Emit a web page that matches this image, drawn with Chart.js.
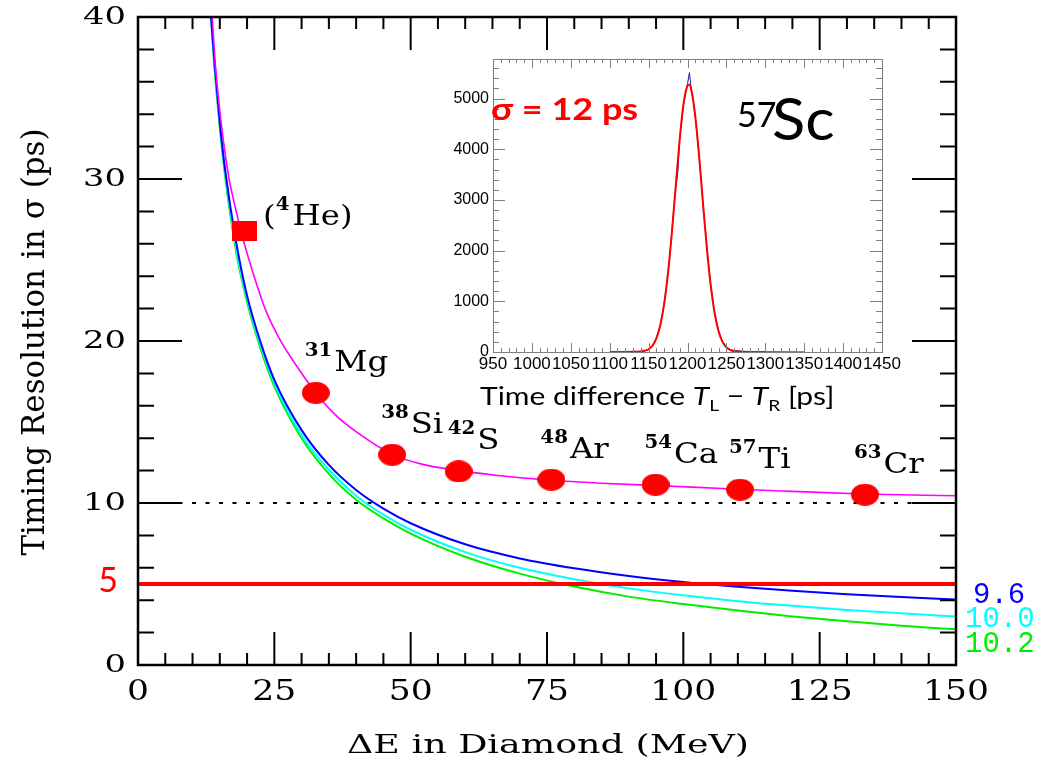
<!DOCTYPE html>
<html>
<head>
<meta charset="utf-8">
<script src="https://cdn.jsdelivr.net/npm/chart.js@4.4.0/dist/chart.umd.min.js"></script>
<style>
  html, body { margin: 0; padding: 0; background: #fff; }
  #wrap { position: relative; width: 1048px; height: 770px; overflow: hidden; }
  #main { position: absolute; left: 0; top: 0; }
  #inset { position: absolute; left: 440px; top: 40px; }
</style>
</head>
<body>
<div id="wrap">
  <canvas id="main" width="1048" height="770"></canvas>
  <canvas id="inset" width="470" height="380"></canvas>
</div>
<script>
// ---- main plot: timing resolution vs energy loss in diamond ----
const xTicks = [0, 25, 50, 75, 100, 125, 150];
const yTicks = [0, 10, 20, 30, 40];

// simulated resolution curves (labels 9.6 / 10.0 / 10.2)
const curveE = [13.4, 14, 15, 16, 18, 20, 22.5, 25, 30, 35, 40, 45, 50, 60, 70, 80, 90, 100, 110, 120, 130, 140, 150];
const blue96 = [40, 37.3, 33.5, 30.5, 26.1, 22.8, 19.9, 17.6, 14.5, 12.35, 10.8, 9.65, 8.75, 7.45, 6.58, 5.97, 5.5, 5.13, 4.83, 4.58, 4.37, 4.19, 4.04];
const cyan100 = [40, 37.2, 33.4, 30.3, 25.7, 22.6, 19.7, 17.4, 14.2, 12.05, 10.45, 9.28, 8.35, 6.97, 6.0, 5.29, 4.73, 4.3, 3.94, 3.65, 3.4, 3.19, 3.0];
const green102 = [40, 37.0, 33.2, 30.1, 25.5, 22.4, 19.5, 17.2, 14.0, 11.8, 10.2, 9.05, 8.11, 6.68, 5.64, 4.84, 4.22, 3.76, 3.36, 3.0, 2.7, 2.43, 2.2];

// fit through measured points (magenta)
const fitE = [13.6, 14.2, 15, 15.8, 16.7, 17.6, 18.5, 19.5, 21, 23.3, 26, 29, 32.6, 36, 40, 46.6, 52, 58.8, 66, 75.8, 85, 94.9, 110, 120, 133, 150];
const fitSigma = [40, 37, 34.2, 32, 30, 28.6, 27.3, 26.0, 24.3, 22.0, 20.1, 18.5, 16.8, 15.5, 14.4, 13.0, 12.4, 12.0, 11.7, 11.4, 11.22, 11.08, 10.85, 10.72, 10.56, 10.45];

// measured isotopes
const isoMass = ['31', '38', '42', '48', '54', '57', '63'];
const isoName = ['Mg', 'Si', 'S', 'Ar', 'Ca', 'Ti', 'Cr'];
const isoE = [32.6, 46.6, 58.8, 75.8, 94.9, 110.4, 133.3];
const isoSigma = [16.8, 12.98, 11.95, 11.44, 11.13, 10.82, 10.51];
const heE = [19.45];
const heSigma = [26.8];

// reference levels
const levelE = [0, 150];
const level5 = [5, 5];
const level10 = [10, 10];

// ---- inset: time difference spectrum of 57Sc ----
const insetXTicks = [950, 1000, 1050, 1100, 1150, 1200, 1250, 1300, 1350, 1400, 1450];
const insetYTicks = [0, 1000, 2000, 3000, 4000, 5000];
const histT = [1100, 1110, 1120, 1130, 1140, 1145, 1150, 1155, 1160, 1165, 1170, 1175, 1180, 1185, 1187.5, 1190, 1195, 1197.5, 1200, 1202.5, 1205, 1207.5, 1210, 1215, 1220, 1225, 1230, 1235, 1240, 1245, 1250, 1255, 1260, 1270, 1280, 1290, 1300, 1320, 1340, 1350];
const histCounts = [0, 0, 2, 5, 14, 28, 58, 118, 280, 510, 960, 1540, 2390, 3260, 3520, 4220, 4880, 5100, 5290, 5510, 5150, 4950, 4620, 3880, 2900, 2050, 1310, 770, 420, 210, 100, 48, 28, 16, 10, 6, 4, 2, 1, 0];
const gausT = [1100, 1120, 1130, 1140, 1145, 1150, 1155, 1160, 1165, 1170, 1175, 1180, 1185, 1190, 1195, 1200, 1202, 1205, 1210, 1215, 1220, 1225, 1230, 1235, 1240, 1245, 1250, 1255, 1260, 1270, 1280, 1300];
const gausCounts = [0, 1, 4, 12, 25, 54, 125, 268, 527, 948, 1566, 2372, 3294, 4197, 4903, 5254, 5275, 5164, 4655, 3850, 2919, 2030, 1294, 757, 406, 200, 90, 37, 14, 2, 0, 0];

const toPts = (xs, ys) => xs.map((v, i) => ({x: v, y: ys[i]}));

function blob(w, h, round) {
  const c = document.createElement('canvas');
  c.width = w; c.height = h;
  const g = c.getContext('2d');
  g.fillStyle = '#ff0000';
  if (round) { g.beginPath(); g.ellipse(w / 2, h / 2, w / 2, h / 2, 0, 0, Math.PI * 2); g.fill(); }
  else g.fillRect(0, 0, w, h);
  return c;
}

// draw text, optionally stretched horizontally
function txt(ctx, s, x, y, o) {
  ctx.save();
  ctx.translate(x, y);
  if (o.rot) ctx.rotate(o.rot);
  ctx.scale(o.sx || 1, 1);
  ctx.font = o.font;
  ctx.fillStyle = o.color || '#000';
  ctx.textAlign = o.align || 'left';
  ctx.textBaseline = o.base || 'alphabetic';
  ctx.fillText(s, 0, 0);
  const w = ctx.measureText(s).width * (o.sx || 1);
  ctx.restore();
  return w;
}

const SERIF = '"DejaVu Serif", "Liberation Serif", serif';

const mainDecor = {
  id: 'mainDecor',
  afterDraw(chart) {
    const {ctx, chartArea: a, scales: {x, y}} = chart;
    ctx.save();
    ctx.strokeStyle = '#000';
    ctx.lineWidth = 2.5;
    ctx.strokeRect(a.left, a.top, a.right - a.left, a.bottom - a.top);
    // ticks pointing inward on all four sides
    ctx.lineWidth = 2;
    ctx.beginPath();
    for (let v = 0; v <= 150; v += 5) {
      const px = x.getPixelForValue(v);
      const len = v % 25 === 0 ? 33 : 12;
      ctx.moveTo(px, a.bottom); ctx.lineTo(px, a.bottom - len);
      ctx.moveTo(px, a.top); ctx.lineTo(px, a.top + len);
    }
    for (let v = 0; v <= 40; v += 2) {
      const py = y.getPixelForValue(v);
      const len = v % 10 === 0 ? 44 : 16;
      ctx.moveTo(a.left, py); ctx.lineTo(a.left + len, py);
      ctx.moveTo(a.right, py); ctx.lineTo(a.right - len, py);
    }
    ctx.stroke();

    // tick labels
    x.ticks.forEach(t => txt(ctx, String(t.value), x.getPixelForValue(t.value), 693,
      {font: '27px ' + SERIF, sx: 1.28, align: 'center', base: 'middle'}));
    y.ticks.forEach(t => txt(ctx, String(t.value), 126, y.getPixelForValue(t.value),
      {font: '25px ' + SERIF, sx: 1.35, align: 'right', base: 'middle'}));
    txt(ctx, '5', 108, y.getPixelForValue(5) + 8,
      {font: '34px Lato, "Open Sans", sans-serif', color: '#ff0000', align: 'center'});

    // axis titles
    txt(ctx, 'ΔE in Diamond (MeV)', (a.left + a.right) / 2 + 1, 746,
      {font: '26px ' + SERIF, sx: 1.4, align: 'center', base: 'middle'});
    txt(ctx, 'Timing Resolution in σ (ps)', 36, (a.top + a.bottom) / 2 + 1,
      {font: '31px ' + SERIF, rot: -Math.PI / 2, align: 'center', base: 'middle'});

    // isotope labels
    isoName.forEach((nm, i) => {
      let cx = x.getPixelForValue(isoE[i]) - 11;
      const by = y.getPixelForValue(isoSigma[i]) - 22;
      cx += txt(ctx, isoMass[i], cx, by - 15, {font: 'bold 18px ' + SERIF, sx: 1.1});
      txt(ctx, nm, cx + 2, by, {font: '27px ' + SERIF, sx: 1.2});
    });
    let hx = x.getPixelForValue(heE[0]) + 19;
    const hy = y.getPixelForValue(heSigma[0]) - 6;
    hx += txt(ctx, '(', hx, hy, {font: '27px ' + SERIF, sx: 1.2});
    hx += txt(ctx, '4', hx, hy - 15, {font: 'bold 18px ' + SERIF, sx: 1.1});
    txt(ctx, 'He)', hx + 3, hy, {font: '27px ' + SERIF, sx: 1.2});

    // curve labels on the right
    const mono = '29px "Liberation Mono", monospace';
    txt(ctx, '9.6', a.right + 17, a.bottom - 62, {font: mono, color: '#0000ff'});
    txt(ctx, '10.0', a.right + 9, a.bottom - 38, {font: mono, color: '#00ffff'});
    txt(ctx, '10.2', a.right + 9, a.bottom - 13, {font: mono, color: '#00ee00'});
    ctx.restore();
  }
};

new Chart(document.getElementById('main'), {
  type: 'line',
  data: {
    datasets: [
      {data: toPts(isoE, isoSigma), showLine: false, pointStyle: blob(28, 22, true), pointRadius: 10},
      {data: toPts(heE, heSigma), showLine: false, pointStyle: blob(25, 20, false), pointRadius: 10},
      {data: toPts(levelE, level5), borderColor: '#ff0000', borderWidth: 4, pointRadius: 0},
      {data: toPts(fitE, fitSigma), borderColor: '#ff00ff', borderWidth: 1.6, pointRadius: 0, cubicInterpolationMode: 'monotone'},
      {data: toPts(curveE, blue96), borderColor: '#0000ff', borderWidth: 2, pointRadius: 0, cubicInterpolationMode: 'monotone'},
      {data: toPts(curveE, cyan100), borderColor: '#00ffff', borderWidth: 2, pointRadius: 0, cubicInterpolationMode: 'monotone'},
      {data: toPts(curveE, green102), borderColor: '#00ee00', borderWidth: 2, pointRadius: 0, cubicInterpolationMode: 'monotone'},
      {data: toPts(levelE, level10), borderColor: '#000', borderWidth: 2, borderDash: [4, 9.5], pointRadius: 0}
    ]
  },
  options: {
    responsive: false,
    animation: false,
    events: [],
    layout: {padding: {left: 0, top: 17, right: 92, bottom: 0}},
    plugins: {legend: {display: false}, tooltip: {enabled: false}},
    scales: {
      x: {
        type: 'linear', min: 0, max: 150,
        afterBuildTicks: s => { s.ticks = xTicks.map(v => ({value: v})); },
        afterFit: s => { s.height = 105; },
        grid: {display: false, drawTicks: false}, border: {display: false}, ticks: {display: false}
      },
      y: {
        type: 'linear', min: 0, max: 40,
        afterBuildTicks: s => { s.ticks = yTicks.map(v => ({value: v})); },
        afterFit: s => { s.width = 138; },
        grid: {display: false, drawTicks: false}, border: {display: false}, ticks: {display: false}
      }
    }
  },
  plugins: [mainDecor]
});

// ---- inset chart ----
const insetDecor = {
  id: 'insetDecor',
  afterDraw(chart) {
    const {ctx, chartArea: a, scales: {x, y}} = chart;
    ctx.save();
    ctx.strokeStyle = '#808080';
    ctx.lineWidth = 1;
    ctx.strokeRect(a.left + 0.5, a.top + 0.5, a.right - a.left, a.bottom - a.top);
    ctx.beginPath();
    for (let v = 950; v <= 1450; v += 10) {
      const px = Math.round(x.getPixelForValue(v)) + 0.5;
      const len = v % 50 === 0 ? 9 : 4;
      ctx.moveTo(px, a.bottom); ctx.lineTo(px, a.bottom - len);
      ctx.moveTo(px, a.top); ctx.lineTo(px, a.top + len);
    }
    for (let v = 0; v <= y.max; v += 200) {
      const py = Math.round(y.getPixelForValue(v)) + 0.5;
      const len = v % 1000 === 0 ? 12 : 6;
      ctx.moveTo(a.left, py); ctx.lineTo(a.left + len, py);
      ctx.moveTo(a.right, py); ctx.lineTo(a.right - len, py);
    }
    ctx.stroke();

    const sans = 'Lato, "Open Sans", sans-serif';
    txt(ctx, 'σ = 12 ps', 51, 80, {font: 'bold 31px ' + sans, sx: 1.16, color: '#ff0000'});
    txt(ctx, '57', 297, 87, {font: '34px ' + sans});
    txt(ctx, 'Sc', 332, 100, {font: '58px ' + sans, sx: 1.06});

    let cx = 40;
    const by = 365;
    const sx = 1.2;
    cx += txt(ctx, 'Time difference ', cx, by, {font: '25px ' + sans, sx});
    cx += txt(ctx, 'T', cx, by, {font: 'italic 25px ' + sans, sx});
    cx += txt(ctx, 'L', cx, by + 6, {font: '16px ' + sans, sx});
    cx += txt(ctx, ' − ', cx, by, {font: '25px ' + sans, sx});
    cx += txt(ctx, 'T', cx, by, {font: 'italic 25px ' + sans, sx});
    cx += txt(ctx, 'R', cx, by + 6, {font: '16px ' + sans, sx});
    txt(ctx, ' [ps]', cx, by, {font: '25px ' + sans, sx});
    ctx.restore();
  }
};

const plainLabel = v => String(v);

new Chart(document.getElementById('inset'), {
  type: 'line',
  data: {
    datasets: [
      {data: toPts(gausT, gausCounts), borderColor: '#ff0000', borderWidth: 2, pointRadius: 0, cubicInterpolationMode: 'monotone'},
      {data: toPts(histT, histCounts), borderColor: '#1a1a9a', borderWidth: 1, pointRadius: 0}
    ]
  },
  options: {
    responsive: false,
    animation: false,
    events: [],
    layout: {padding: {left: 0, top: 19, right: 28, bottom: 0}},
    plugins: {legend: {display: false}, tooltip: {enabled: false}},
    scales: {
      x: {
        type: 'linear', min: 950, max: 1450,
        afterBuildTicks: s => { s.ticks = insetXTicks.map(v => ({value: v})); },
        afterFit: s => { s.height = 68; },
        grid: {display: false, drawTicks: false}, border: {display: false},
        ticks: {autoSkip: false, maxRotation: 0, padding: 2, color: '#000', callback: plainLabel,
          font: {family: '"Liberation Sans", Arial, sans-serif', size: 17}}
      },
      y: {
        type: 'linear', min: 0, max: 5780,
        afterBuildTicks: s => { s.ticks = insetYTicks.map(v => ({value: v})); },
        afterFit: s => { s.width = 53; },
        grid: {display: false, drawTicks: false}, border: {display: false},
        ticks: {padding: 4, color: '#000', callback: plainLabel,
          font: {family: '"Liberation Sans", Arial, sans-serif', size: 16}}
      }
    }
  },
  plugins: [insetDecor]
});
</script>
</body>
</html>
